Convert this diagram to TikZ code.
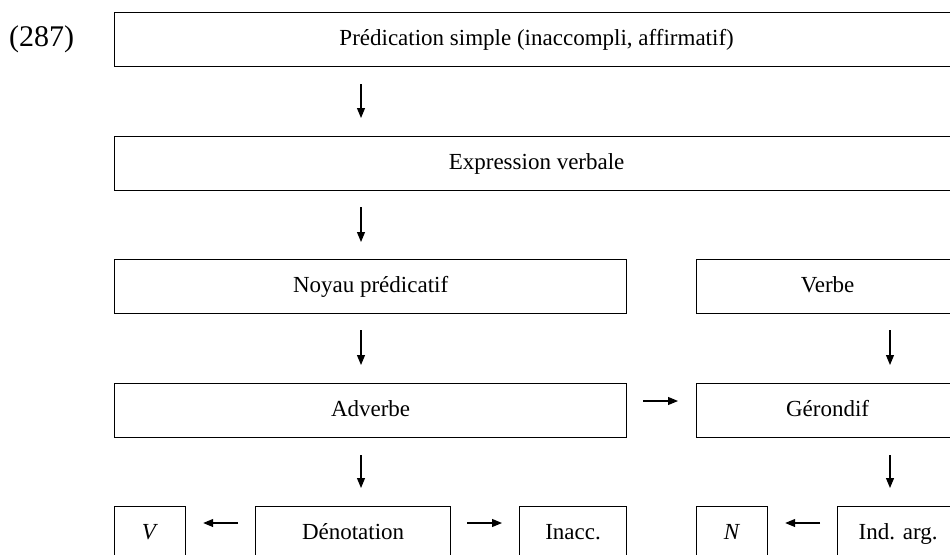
\documentclass[tikz,border=0pt]{standalone}
\usepackage{fontspec}
\setmainfont{Liberation Serif}
\usetikzlibrary{arrows.meta, positioning}

\begin{document}
\begin{tikzpicture}[
  x=1pt, y=-1pt,
  box/.style={draw, line width=1.2pt, inner sep=0pt, anchor=north west,
              minimum width=#1, minimum height=54pt, align=center,
              text height=16pt, text depth=5pt,
              font=\fontsize{23}{27}\selectfont},
  arr/.style={-{Triangle[length=10pt, width=8pt]}, line width=1.1pt},
  num/.style={inner sep=0pt, anchor=west, font=\fontsize{30}{34}\selectfont}
]
\useasboundingbox (0,0) rectangle (950,554);
\clip (0,0) rectangle (950,554);

%% Example number
\node[num] (ex) at (9,39) {(287)};

%% Boxes
\node[box=844pt] (pred)  at (114,12)  {Prédication simple (inaccompli, affirmatif)};
\node[box=844pt] (expr)  at (114,136) {Expression verbale};
\node[box=512pt] (noyau) at (114,259) {Noyau prédicatif};
\node[box=262pt] (verbe) at (696,259) {Verbe};
\node[box=512pt] (adv)   at (114,383) {Adverbe};
\node[box=262pt] (ger)   at (696,383) {Gérondif};
\node[box=71pt]  (vbox)  at (114,506) {\textit{V}};
\node[box=195pt] (denot) at (255,506) {Dénotation};
\node[box=107pt] (inacc) at (519,506) {Inacc.};
\node[box=71pt]  (nbox)  at (696,506) {\textit{N}};
\node[box=121pt] (indarg) at (837,506) {Ind. arg.};

%% Arrow columns and rows
\coordinate (colL) at (361,0);
\coordinate (colR) at (890,0);
\coordinate (rowA) at (0,401);
\coordinate (rowB) at (0,523);

%% Vertical arrows
\draw[arr, shorten <=17pt, shorten >=18pt] (pred.south -| colL)  -- (expr.north -| colL);
\draw[arr, shorten <=16pt, shorten >=17pt] (expr.south -| colL)  -- (noyau.north -| colL);
\draw[arr, shorten <=16pt, shorten >=18pt] (noyau.south -| colL) -- (adv.north -| colL);
\draw[arr, shorten <=17pt, shorten >=18pt] (adv.south -| colL)   -- (denot.north -| colL);
\draw[arr, shorten <=16pt, shorten >=18pt] (verbe.south -| colR) -- (ger.north -| colR);
\draw[arr, shorten <=17pt, shorten >=18pt] (ger.south -| colR)   -- (indarg.north -| colR);

%% Horizontal arrows
\draw[arr, shorten <=16pt, shorten >=18pt] (adv.east |- rowA)    -- (ger.west |- rowA);
\draw[arr, shorten <=17pt, shorten >=17pt] (denot.west |- rowB)  -- (vbox.east |- rowB);
\draw[arr, shorten <=16pt, shorten >=17pt] (denot.east |- rowB)  -- (inacc.west |- rowB);
\draw[arr, shorten <=17pt, shorten >=17pt] (indarg.west |- rowB) -- (nbox.east |- rowB);

\end{tikzpicture}
\end{document}
